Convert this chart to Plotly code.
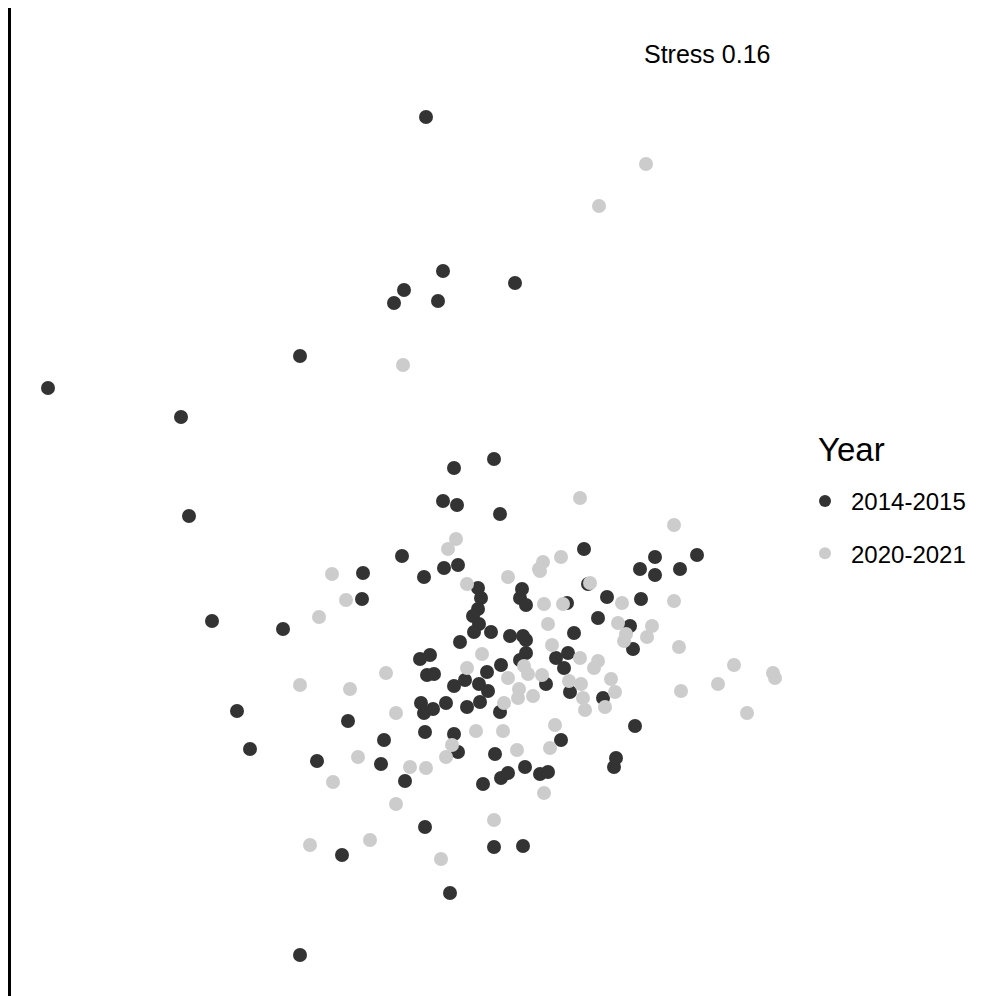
import plotly.graph_objects as go

# NMDS ordination scores (plot units; y grows downward)
nmds1_2014 = [425, 442, 403, 393, 437, 514, 299, 47, 180, 188, 211, 282, 236, 249, 299, 449, 341, 424, 493, 522,
              453, 493, 442, 456, 499, 401, 443, 457, 423, 583, 362, 361, 477, 480, 477, 472, 478, 473, 490, 459,
              419, 429, 426, 433, 453, 464, 478, 486, 487, 500, 420, 423, 432, 445, 466, 479, 499, 347, 519, 521,
              525, 587, 606, 597, 573, 629, 509, 522, 525, 525, 519, 567, 555, 563, 545, 569, 602, 654, 639, 654,
              679, 696, 640, 632, 634, 566, 316, 383, 380, 404, 424, 453, 457, 494, 482, 500, 507, 524, 539, 547,
              560, 613, 615]
nmds2_2014 = [116, 270, 289, 302, 300, 282, 355, 387, 416, 515, 620, 628, 710, 748, 954, 892, 854, 826, 846, 845,
              467, 458, 500, 504, 513, 555, 567, 564, 576, 548, 572, 598, 587, 597, 608, 615, 623, 631, 631, 641,
              658, 654, 674, 673, 685, 679, 683, 671, 690, 664, 702, 712, 708, 702, 706, 701, 711, 720, 597, 588,
              604, 583, 596, 617, 632, 625, 635, 635, 639, 652, 659, 652, 657, 667, 683, 691, 697, 556, 568, 574,
              568, 554, 598, 648, 725, 602, 760, 739, 763, 780, 731, 733, 751, 753, 783, 777, 772, 766, 773, 771,
              739, 766, 757]

nmds1_2020 = [645, 598, 402, 579, 673, 455, 447, 542, 538, 560, 507, 589, 331, 345, 318, 466, 539, 543, 562, 621,
              673, 547, 617, 651, 625, 623, 646, 678, 551, 579, 597, 593, 481, 466, 507, 523, 527, 541, 568, 580,
              610, 614, 518, 517, 532, 503, 582, 584, 604, 680, 717, 733, 772, 774, 746, 385, 299, 349, 395, 357,
              332, 409, 425, 445, 451, 475, 502, 516, 549, 554, 543, 395, 493, 309, 369, 440]
nmds2_2020 = [163, 205, 364, 497, 524, 538, 548, 561, 568, 556, 576, 582, 573, 599, 616, 583, 570, 603, 603, 602,
              600, 623, 622, 625, 633, 640, 636, 646, 644, 657, 660, 667, 653, 667, 677, 665, 673, 674, 680, 683,
              678, 691, 688, 697, 695, 702, 697, 709, 706, 690, 683, 664, 672, 677, 712, 672, 684, 688, 712, 756,
              781, 766, 767, 756, 744, 730, 730, 749, 747, 724, 792, 803, 819, 844, 839, 858]

groups = ["2014-2015", "2020-2021"]
colors = ["#333333", "#CCCCCC"]
legend_title = "Year"
stress_label = "Stress 0.16"

FONT = "Liberation Sans, Arial, sans-serif"

fig = go.Figure()
for name, xs, ys, col in zip(groups, [nmds1_2014, nmds1_2020], [nmds2_2014, nmds2_2020], colors):
    fig.add_trace(go.Scatter(
        x=xs, y=ys, mode="markers", name=name, legendgroup=name,
        marker=dict(size=14, color=col, line=dict(width=0)),
        hoverinfo="skip",
    ))

fig.add_annotation(x=706, y=53, xref="x", yref="y", text=stress_label, showarrow=False,
                   font=dict(size=25, color="black", family=FONT))
fig.add_annotation(x=816 / 982, y=1 - 449 / 996, xref="paper", yref="paper", text=legend_title,
                   showarrow=False, xanchor="left", yanchor="middle",
                   font=dict(size=33, color="black", family=FONT))

fig.update_layout(
    width=982, height=996,
    margin=dict(l=0, r=0, t=0, b=0),
    paper_bgcolor="white", plot_bgcolor="white",
    font=dict(family=FONT, color="black"),
    showlegend=True,
    legend=dict(
        font=dict(size=24, family=FONT),
        x=799 / 982, xanchor="left",
        y=1 - 479 / 996, yanchor="top",
        tracegroupgap=18,
        itemwidth=42,
        itemsizing="constant",
        bgcolor="rgba(0,0,0,0)",
    ),
    xaxis=dict(domain=[11 / 982, 1], range=[10, 981], showgrid=False, zeroline=False,
               showticklabels=False, ticks="", showline=False),
    yaxis=dict(domain=[0, 988 / 996], range=[995, 7], showgrid=False, zeroline=False,
               showticklabels=False, ticks="", showline=True, linewidth=2.5, linecolor="black"),
)

fig.write_html("out.html")
